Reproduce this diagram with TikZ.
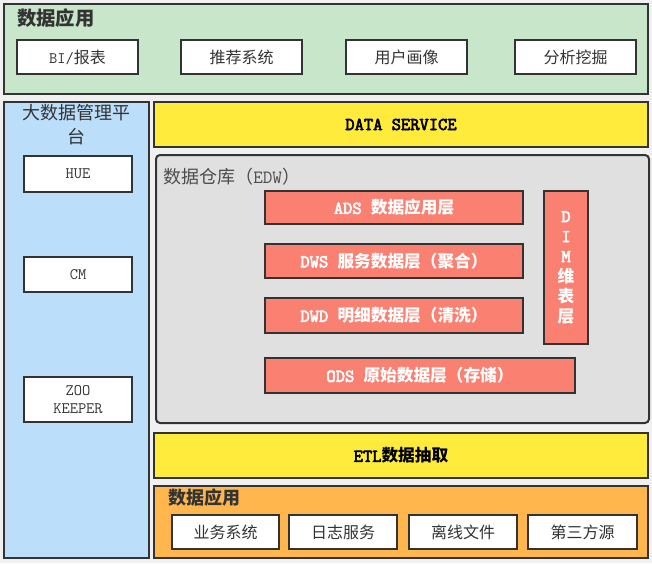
\documentclass[tikz,border=0pt]{standalone}
\usepackage{fontspec}
\setmainfont{Latin Modern Mono}[AutoFakeBold=3.5]
\newfontfamily\cjk{Noto Sans CJK SC}
\definecolor{bgc}{HTML}{F0F0F0}
\definecolor{edge}{HTML}{333333}
\definecolor{greenf}{HTML}{C8E6C9}
\definecolor{bluef}{HTML}{BBDEFB}
\definecolor{yellowf}{HTML}{FFEB3B}
\definecolor{grayf}{HTML}{E0E0E0}
\definecolor{salmonf}{HTML}{FA8072}
\definecolor{orangef}{HTML}{FFB74D}
\definecolor{txt}{HTML}{333333}
\newcommand\bx[7]{\node[#6, minimum width={(#4-#2)*0.75pt}, minimum height={(#5-#3)*0.75pt}, inner sep=0pt] (#1) at ({(#2+#4)/2},{(#3+#5)/2}) {#7};}
\newcommand\cjkb[1]{{\cjk\fontsize{12.5}{15}\selectfont #1}}
\newcommand\cjkr[1]{{\cjk\fontsize{12}{14}\selectfont #1}}
\tikzset{
  panel/.style={draw=edge, line width=1.5pt},
  itembox/.style={draw=edge, line width=1.5pt, fill=white, text=txt, font=\fontsize{12}{13.5}\selectfont, align=center},
  bar/.style={draw=edge, line width=1.5pt, fill=yellowf, text=black, font=\bfseries\fontsize{13.5}{15}\selectfont},
  layer/.style={draw=edge, line width=1.5pt, fill=salmonf, text=white, font=\bfseries\fontsize{13.5}{15}\selectfont},
  title/.style={anchor=west, inner sep=0pt, text=txt},
}
\begin{document}
\begin{tikzpicture}[x=0.75pt, y=-0.75pt]
\fill[bgc] (0,0) rectangle (652,563);
\useasboundingbox (0,0) rectangle (652,563);
% top application panel
\bx{app}{4}{4}{648}{94}{panel, fill=greenf}{}
\node[title, font=\cjk\bfseries\fontsize{14.5}{16}\selectfont] (apptitle) at (17,18) {数据应用};
\bx{bi}{17}{40}{138}{74}{itembox}{BI/\cjkr{报表}}
\bx{rec}{181}{40}{302}{74}{itembox}{\cjkr{推荐系统}}
\bx{user}{346}{40}{467}{74}{itembox}{\cjkr{用户画像}}
\bx{mine}{515}{40}{636}{74}{itembox}{\cjkr{分析挖掘}}
% left management panel
\bx{mgmt}{4}{102}{149}{558}{panel, fill=bluef}{}
\node[inner sep=0pt, align=center, text=txt, font=\cjk\fontsize{13.5}{18}\selectfont] (mgmttitle) at (76.5,125) {大数据管理平\\台};
\bx{hue}{24}{156}{132}{192}{itembox}{HUE}
\bx{cm}{24}{257}{132}{292}{itembox}{CM}
\bx{zoo}{24}{377}{132}{422}{itembox}{ZOO\\KEEPER}
% data service
\bx{ds}{154}{102}{648}{147}{bar}{DATA SERVICE}
% EDW
\bx{edw}{156}{155}{649}{423}{panel, fill=grayf, rounded corners=3pt}{}
\node[title, text=black!70, font=\fontsize{14}{16}\selectfont] (edwtitle) at (163,177) {{\cjk\fontsize{13.5}{16}\selectfont 数据仓库（}EDW{\cjk\fontsize{13.5}{16}\selectfont ）}};
\bx{ads}{265}{191}{523}{224}{layer}{ADS \cjkb{数据应用层}}
\bx{dws}{265}{244}{523}{278}{layer}{DWS \cjkb{服务数据层（聚合）}}
\bx{dwd}{265}{298}{523}{333}{layer}{DWD \cjkb{明细数据层（清洗）}}
\bx{ods}{265}{358}{575}{393}{layer}{ODS \cjkb{原始数据层（存储）}}
\bx{dim}{544}{191}{588}{344}{layer, align=center}{D\\I\\M\\\cjkb{维}\\\cjkb{表}\\\cjkb{层}}
% ETL
\bx{etl}{154}{433}{648}{478}{bar}{ETL\cjkb{数据抽取}}
% sources
\bx{src}{154}{486}{648}{558}{panel, fill=orangef}{}
\node[title, font=\cjk\bfseries\fontsize{13.5}{16}\selectfont] (srctitle) at (168,498) {数据应用};
\bx{biz}{172}{515}{279}{549}{itembox}{\cjkr{业务系统}}
\bx{log}{289}{515}{397}{549}{itembox}{\cjkr{日志服务}}
\bx{file}{409}{515}{517}{549}{itembox}{\cjkr{离线文件}}
\bx{third}{528}{515}{637}{549}{itembox}{\cjkr{第三方源}}
\end{tikzpicture}
\end{document}
